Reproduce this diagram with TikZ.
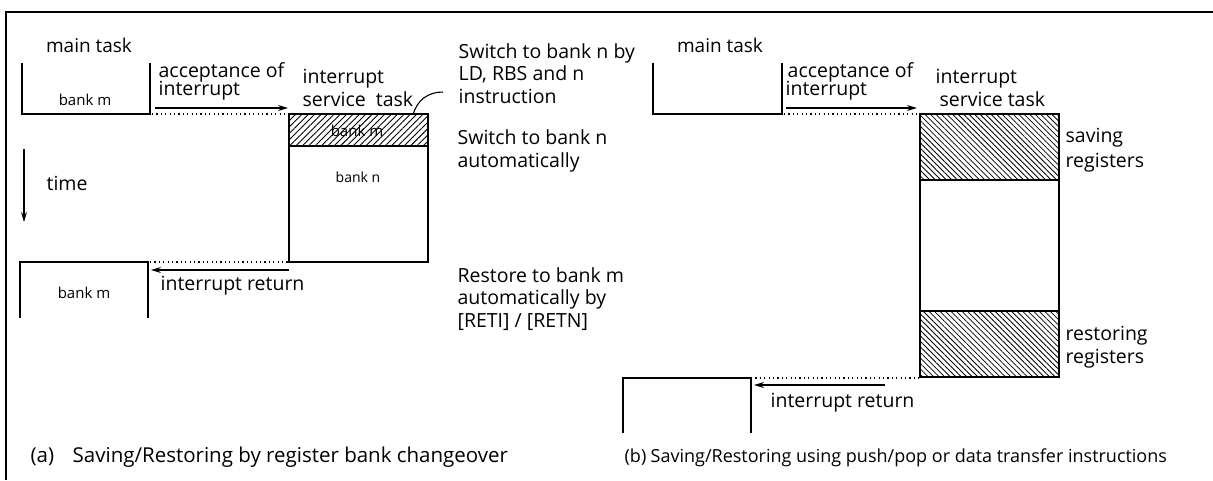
\documentclass[tikz,border=0pt]{standalone}
\usepackage{fontspec}
\setmainfont{Open Sans}
\usetikzlibrary{arrows.meta,patterns.meta}
\begin{document}
\begin{tikzpicture}[x=1pt,y=-1pt,line width=1.3pt,
  t/.style={inner sep=0pt, anchor=base west, font=\fontsize{19.5}{23}\selectfont},
  tc/.style={inner sep=0pt, anchor=base, font=\fontsize{19}{23}\selectfont},
  small/.style={inner sep=0pt, font=\fontsize{15}{17}\selectfont},
  capA/.style={inner sep=0pt, anchor=base west, font=\fontsize{20.5}{24}\selectfont},
  capB/.style={inner sep=0pt, anchor=base west, font=\fontsize{18}{22}\selectfont},
  dots/.style={line width=1.2pt, dash pattern=on 1.2pt off 3.2pt},
  arr/.style={-{Stealth[length=10pt,width=6pt]}, line width=1.3pt},
  hatchA/.style={pattern={Lines[angle=45,distance=4.5pt,line width=0.9pt]}},
  hatchB/.style={pattern={Lines[angle=-45,distance=3.9pt,line width=0.8pt]}},
  frame/.style={line width=2pt}
]
\useasboundingbox (0,0) rectangle (1213,480);
% frame
\draw[frame] (1213,12) -- (6,12) -- (6,480);

% ================= (a) =================
\node[tc] (amain) at (89,52) {main task};
\draw (22,63) -- (22,114) -- (150,114) -- (150,63);
\node[small] (abankm1) at (85,100) {bank m};
\node[t] (aacc1) at (158,77) {acceptance of};
\node[t] (aacc2) at (158,95) {interrupt};
\coordinate (aA1) at (155,108);
\coordinate (aA2) at (288,108);
\draw[arr] (aA1) -- (aA2);
\coordinate (aD1) at (152,114);
\coordinate (aD2) at (289,114);
\draw[dots] (aD1) -- (aD2);

\node[t] (aisr1) at (302,83) {interrupt};
\node[t] (aisr2) at (302,106) {service\ \ task};
\draw[hatchA] (289,114) rectangle (428,146);
\draw (289,114) rectangle (428,262);
\node[small] (abankm2) at (357,131) {bank m};
\node[small, font=\fontsize{14}{16}\selectfont] (abankn) at (358,177) {bank n};

\coordinate (aL1) at (413,115);
\coordinate (aL2) at (443,92);
\draw[line width=1.1pt] (aL1) .. controls (417,100) and (428,92) .. (aL2);

\node[t] (asw1) at (458,58) {Switch to bank n by};
\node[t] (asw2) at (458,80) {LD, RBS and n};
\node[t] (asw3) at (458,103) {instruction};
\node[t] (aau1) at (457,144) {Switch to bank n};
\node[t] (aau2) at (457,167) {automatically};

\node[t] (atime) at (46,190) {time};
\coordinate (aT1) at (24,149);
\coordinate (aT2) at (24,222);
\draw[arr] (aT1) -- (aT2);

\draw (20,318) -- (20,262) -- (148,262) -- (148,318);
\node[small] (abankm3) at (84,293) {bank m};
\coordinate (aR1) at (289,270);
\coordinate (aR2) at (151,270);
\draw[arr] (aR1) -- (aR2);
\coordinate (aE1) at (150,262);
\coordinate (aE2) at (289,262);
\draw[dots] (aE1) -- (aE2);
\node[t] (aret) at (160,290) {interrupt return};

\node[t] (are1) at (457,282) {Restore to bank m};
\node[t] (are2) at (457,304) {automatically by};
\node[t] (are3) at (457,327) {[RETI] / [RETN]};

\node[capA] (acap1) at (30,462) {(a)};
\node[capA] (acap2) at (72,462) {Saving/Restoring by register bank changeover};

% ================= (b) =================
\node[tc] (bmain) at (720,52) {main task};
\draw (653,63) -- (653,114) -- (782,114) -- (782,63);
\node[t] (bacc1) at (787,77) {acceptance of};
\node[t] (bacc2) at (785,95) {interrupt};
\coordinate (bA1) at (786,108);
\coordinate (bA2) at (917,108);
\draw[arr] (bA1) -- (bA2);
\coordinate (bD1) at (784,114);
\coordinate (bD2) at (920,114);
\draw[dots] (bD1) -- (bD2);

\node[t] (bisr1) at (935,83) {interrupt};
\node[t] (bisr2) at (939,106) {service task};
\draw[hatchB] (920,114) rectangle (1059,180);
\draw[hatchB] (920,311) rectangle (1059,377);
\draw (920,114) rectangle (1059,377);

\node[t] (bsav1) at (1065,142) {saving};
\node[t] (bsav2) at (1065,167) {registers};
\node[t] (bres1) at (1065,340) {restoring};
\node[t] (bres2) at (1065,363) {registers};

\draw (623,433) -- (623,378) -- (751,378) -- (751,433);
\coordinate (bE1) at (751,378);
\coordinate (bE2) at (920,378);
\draw[dots] (bE1) -- (bE2);
\coordinate (bR1) at (885,385);
\coordinate (bR2) at (754,385);
\draw[arr] (bR1) -- (bR2);
\node[t] (bret) at (770,407) {interrupt return};

\node[capB] (bcap1) at (624,462) {(b)};
\node[capB] (bcap2) at (650,462) {Saving/Restoring using push/pop or data transfer instructions};
\end{tikzpicture}
\end{document}
